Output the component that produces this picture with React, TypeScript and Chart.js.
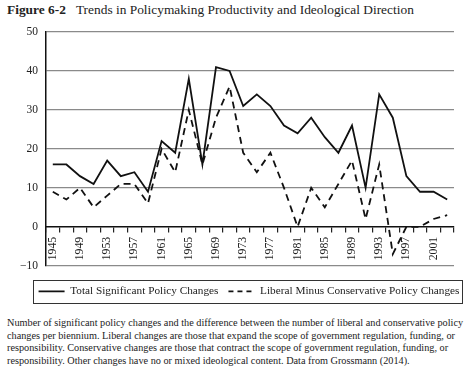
import React, { useEffect, useRef } from "react";
import { Chart, registerables } from "chart.js";

Chart.register(...registerables);

const years = [
  "1945", "1947", "1949", "1951", "1953", "1955", "1957", "1959", "1961", "1963",
  "1965", "1967", "1969", "1971", "1973", "1975", "1977", "1979", "1981", "1983",
  "1985", "1987", "1989", "1991", "1993", "1995", "1997", "1999", "2001", "2003",
];
const shownYearLabels = [
  "1945", "1949", "1953", "1957", "1961", "1965", "1969", "1973",
  "1977", "1981", "1985", "1989", "1993", "1997", "2001",
];
const totalChanges = [
  16, 16, 13, 11, 17, 13, 14, 9, 22, 19,
  38, 16, 41, 40, 31, 34, 31, 26, 24, 28,
  23, 19, 26, 10, 34, 28, 13, 9, 9, 7,
];
const liberalMinusConservative = [
  9, 7, 10, 5, 8, 11, 11, 6, 20, 14,
  30, 16, 28, 36, 19, 14, 19, 10, 0, 10,
  5, 11, 17, 2, 16, -7, 0, 0, 2, 3,
];
const seriesNames = [
  "Total Significant Policy Changes",
  "Liberal Minus Conservative Policy Changes",
];
const yMin = -10;
const yMax = 50;
const yStep = 10;

const figureLabel = "Figure 6-2";
const figureTitle = "Trends in Policymaking Productivity and Ideological Direction";
const captionLines = [
  "Number of significant policy changes and the difference between the number of liberal and conservative policy",
  "changes per biennium. Liberal changes are those that expand the scope of government regulation, funding, or",
  "responsibility. Conservative changes are those that contract the scope of government regulation, funding, or",
  "responsibility. Other changes have no or mixed ideological content. Data from Grossmann (2014).",
];

const SERIF = "'Liberation Serif', 'Times New Roman', serif";

const legendShift = {
  id: "legendShift",
  afterLayout(chart: any) {
    const lg = chart.legend;
    if (!lg) return;
    const dy = 10;
    const dx = 19;
    lg.top += dy;
    lg.bottom += dy;
    lg.left += dx;
    lg.right += dx;
  },
};

const legendBorder = {
  id: "legendBorder",
  afterDraw(chart: any) {
    const lg = chart.legend;
    if (!lg || !lg.legendHitBoxes || !lg.legendHitBoxes.length) return;
    const hb = lg.legendHitBoxes;
    let l = Infinity, r = -Infinity, t = Infinity, b = -Infinity;
    for (const h of hb) {
      l = Math.min(l, h.left);
      r = Math.max(r, h.left + h.width);
      t = Math.min(t, h.top);
      b = Math.max(b, h.top + h.height);
    }
    const ctx = chart.ctx;
    ctx.save();
    ctx.strokeStyle = "#333";
    ctx.lineWidth = 1;
    ctx.strokeRect(Math.round(l - 6) + 0.5, Math.round(t - 6) + 0.5, Math.round(r - l + 8), Math.round(b - t + 12));
    ctx.restore();
  },
};

export default function App() {
  const canvasRef = useRef<HTMLCanvasElement | null>(null);

  useEffect(() => {
    if (!canvasRef.current) return;
    const chart = new Chart(canvasRef.current, {
      type: "line",
      data: {
        labels: years,
        datasets: [
          {
            label: seriesNames[0],
            data: totalChanges,
            borderColor: "#111",
            backgroundColor: "#111",
            borderWidth: 1.8,
            pointRadius: 0,
            tension: 0,
            fill: false,
          },
          {
            label: seriesNames[1],
            data: liberalMinusConservative,
            borderColor: "#111",
            backgroundColor: "#111",
            borderWidth: 1.8,
            borderDash: [7, 5],
            pointRadius: 0,
            tension: 0,
            fill: false,
          },
        ],
      },
      options: {
        animation: false,
        responsive: false,
        devicePixelRatio: 1,
        layout: { padding: { left: 6, right: 20, top: 32, bottom: 13 } },
        plugins: {
          title: { display: false },
          tooltip: { enabled: false },
          legend: {
            display: true,
            position: "bottom",
            labels: {
              usePointStyle: true,
              pointStyle: "line",
              pointStyleWidth: 26,
              padding: 10,
              color: "#222",
              font: { family: SERIF, size: 11.25 },
              generateLabels: (chart: any) => {
                const items = Chart.defaults.plugins.legend.labels.generateLabels(chart);
                items.forEach((it: any, i: number) => {
                  it.lineDash = chart.data.datasets[i].borderDash ? [5, 4] : [];
                  it.lineWidth = 1.8;
                  it.strokeStyle = "#111";
                  it.fillStyle = "#111";
                });
                return items;
              },
            },
          },
        },
        scales: {
          x: {
            type: "category",
            offset: true,
            position: { y: 0 } as any,
            grid: {
              display: true,
              drawOnChartArea: false,
              drawTicks: true,
              tickLength: 5,
              offset: true,
              tickColor: "#222",
              lineWidth: 1.2,
            },
            border: { display: true, color: "#111", width: 1.5 },
            ticks: {
              autoSkip: false,
              minRotation: 90,
              maxRotation: 90,
              padding: 5,
              color: "#222",
              font: { family: SERIF, size: 11.75 },
              callback: (_v: any, i: number) =>
                shownYearLabels.includes(years[i]) ? years[i] : "",
            },
          },
          y: {
            min: yMin,
            max: yMax,
            afterFit: (s: any) => {
              s.width = 40;
            },
            grid: {
              color: (c: any) => (c.tick && c.tick.value === 0 ? "rgba(0,0,0,0)" : "#8a8a8a"),
              lineWidth: 1.3,
              drawTicks: false,
            },
            border: { display: true, color: "#111", width: 1.5 },
            ticks: {
              stepSize: yStep,
              padding: 8,
              color: "#222",
              font: { family: SERIF, size: 11.5 },
              callback: (v: any) => String(v).replace("-", "\u2212"),
            },
          },
        },
      },
      plugins: [legendShift, legendBorder],
    });
    return () => chart.destroy();
  }, []);

  return (
    <div
      style={{
        position: "fixed",
        left: 0,
        top: 0,
        width: 474,
        height: 376,
        background: "#fff",
        fontFamily: SERIF,
        color: "#222",
        overflow: "hidden",
      }}
    >
      <div
        style={{
          position: "absolute",
          left: 7,
          top: 3,
          fontSize: 13.4,
          lineHeight: "13px",
          whiteSpace: "nowrap",
        }}
      >
        <span style={{ fontWeight: "bold", marginRight: 10 }}>{figureLabel}</span>
        <span>{figureTitle}</span>
      </div>
      <canvas
        ref={canvasRef}
        width={474}
        height={310}
        style={{ position: "absolute", left: 0, top: 0, width: 474, height: 310 }}
      />
      <div
        style={{
          position: "absolute",
          left: 7,
          top: 317,
          fontSize: 10.25,
          lineHeight: "12.6px",
        }}
      >
        {captionLines.map((line, i) => (
          <div key={i} style={{ whiteSpace: "nowrap" }}>
            {line}
          </div>
        ))}
      </div>
    </div>
  );
}
